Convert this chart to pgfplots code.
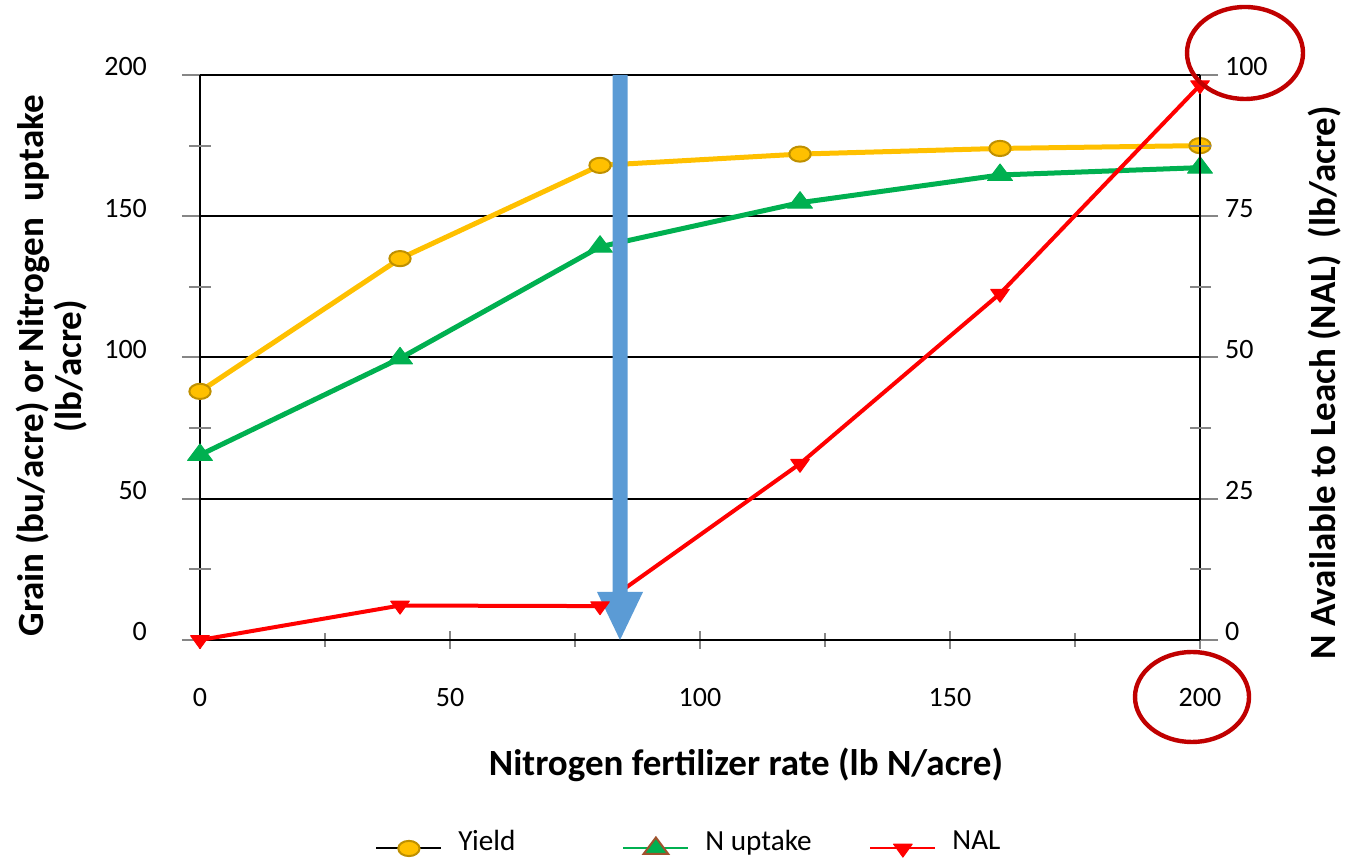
\documentclass[border=0pt]{standalone}
\usepackage{fontspec}
\setmainfont{Carlito}
\usepackage{pgfplots}
\pgfplotsset{compat=1.18}
\definecolor{yl}{HTML}{FFC000}
\definecolor{yld}{HTML}{BF9000}
\definecolor{gn}{HTML}{00B050}
\definecolor{gnb}{HTML}{A0522D}
\definecolor{rd}{HTML}{FF0000}
\definecolor{bl}{HTML}{5B9BD5}
\definecolor{dr}{HTML}{C00000}
\definecolor{tk}{HTML}{868686}
\begin{document}
\begin{tikzpicture}
\useasboundingbox (0,0) rectangle (674pt,430pt);
\pgfplotsset{
  common/.style={
    at={(100pt,110pt)}, anchor=south west,
    scale only axis, width=500pt, height=282.5pt,
    xmin=0, xmax=200,
    /pgf/number format/assume math mode=true,
    tick label style={font=\fontsize{14}{16}\selectfont},
    tick style={tk, line width=1pt},
    axis line style={black, line width=1pt},
    clip=false,
  }
}
\begin{axis}[common,
  ymin=0, ymax=200,
  axis x line*=bottom, axis y line*=left,
  xtick={0,50,...,200}, minor x tick num=1,
  xtick align=center, ytick align=outside,
  ytick={0,50,...,200},
  major tick length=9pt, minor tick length=7pt,
  extra y ticks={25,75,125,175}, extra y tick labels={},
  extra y tick style={ytick align=center, major tick length=10.5pt, grid=none},
  ymajorgrids, major grid style={black, line width=1pt},
  yticklabel style={yshift=4pt, xshift=-14pt},
  xticklabel style={yshift=-16pt},
  xlabel={Nitrogen fertilizer rate (lb N/acre)},
  xlabel style={at={(axis description cs:0.546,-0.221)}, anchor=center, font=\fontsize{18.5}{22}\selectfont\bfseries},
  ylabel={Grain (bu/acre) or Nitrogen\ \ uptake\\(lb/acre)},
  ylabel style={at={(axis description cs:-0.148,0.485)}, anchor=center, align=center, font=\fontsize{18.5}{19}\selectfont\bfseries},
]
\addplot[yl, line width=2.5pt, line join=round, mark=*, mark size=3.8pt, mark options={fill=yl, draw=yld, line width=1pt, xscale=1.4}]
  coordinates {(0,88) (40,135) (80,168) (120,172) (160,174) (200,175)};
\addplot[gn, line width=2.5pt, line join=round, mark=triangle*, mark size=5.5pt, mark options={fill=gn, draw=gn, line width=0.5pt, xscale=1.3}]
  coordinates {(0,65.5) (40,99.7) (80,139.2) (120,154.8) (160,164.6) (200,167.2)};
\end{axis}
\begin{axis}[common,
  ymin=0, ymax=100,
  axis x line=none, axis y line*=right,
  ytick={0,25,...,100}, ytick align=outside,
  major tick length=9pt,
  extra y ticks={12.5,37.5,62.5,87.5}, extra y tick labels={},
  extra y tick style={ytick align=center, major tick length=10.5pt},
  yticklabel style={yshift=4pt},
  ylabel={N Available to Leach (NAL)\ \ (lb/acre)},
  ylabel style={at={(axis description cs:1.125,0.455)}, anchor=center, font=\fontsize{18.5}{22}\selectfont\bfseries},
  legend style={at={(axis description cs:0.175,-0.369)}, anchor=west, draw=none, fill=none,
    legend columns=3, font=\fontsize{14.6}{16}\selectfont, inner sep=0pt,
    /tikz/every even column/.append style={column sep=0pt}, nodes={inner sep=0pt}},
  legend cell align=left,
  legend image post style={line width=1pt},
  legend image code/.code={\draw[mark repeat=2, mark phase=2, #1] plot coordinates {(0pt,0pt) (16.25pt,0pt) (32.5pt,0pt)};},
]
\addlegendimage{black, line width=1pt, mark=*, mark size=3.8pt, mark options={fill=yl, draw=yld, line width=1pt, xscale=1.4}}
\addlegendentry{\hspace{8pt}\raisebox{7pt}{\makebox[82pt][l]{Yield}}}
\addlegendimage{gn, line width=1pt, mark=triangle*, mark size=5.5pt, mark options={fill=gn, draw=gnb, line width=1pt, xscale=1.3}}
\addlegendentry{\hspace{8pt}\raisebox{7pt}{\makebox[82pt][l]{N uptake}}}
\addplot[rd, line width=2pt, line join=round, mark=triangle*, mark size=4.3pt, mark options={fill=rd, draw=rd, line width=0.5pt, rotate=180, xscale=1.25}]
  coordinates {(0,0) (40,6.1) (80,6.0) (120,31.2) (160,61.3) (200,98.2)};
\addlegendentry{\hspace{8pt}\raisebox{7pt}{NAL}}
\fill[bl] (axis cs:82.5,100) -- (axis cs:85.5,100) -- (axis cs:85.5,8.5) -- (axis cs:88.6,8.5) -- (axis cs:84,0) -- (axis cs:79.4,8.5) -- (axis cs:82.5,8.5) -- cycle;
\end{axis}
\draw[dr, line width=2.2pt] (622.5pt,403.5pt) ellipse [x radius=29pt, y radius=23pt];
\draw[dr, line width=2.2pt] (596pt,81.5pt) ellipse [x radius=28.5pt, y radius=22.5pt];
\end{tikzpicture}
\end{document}
